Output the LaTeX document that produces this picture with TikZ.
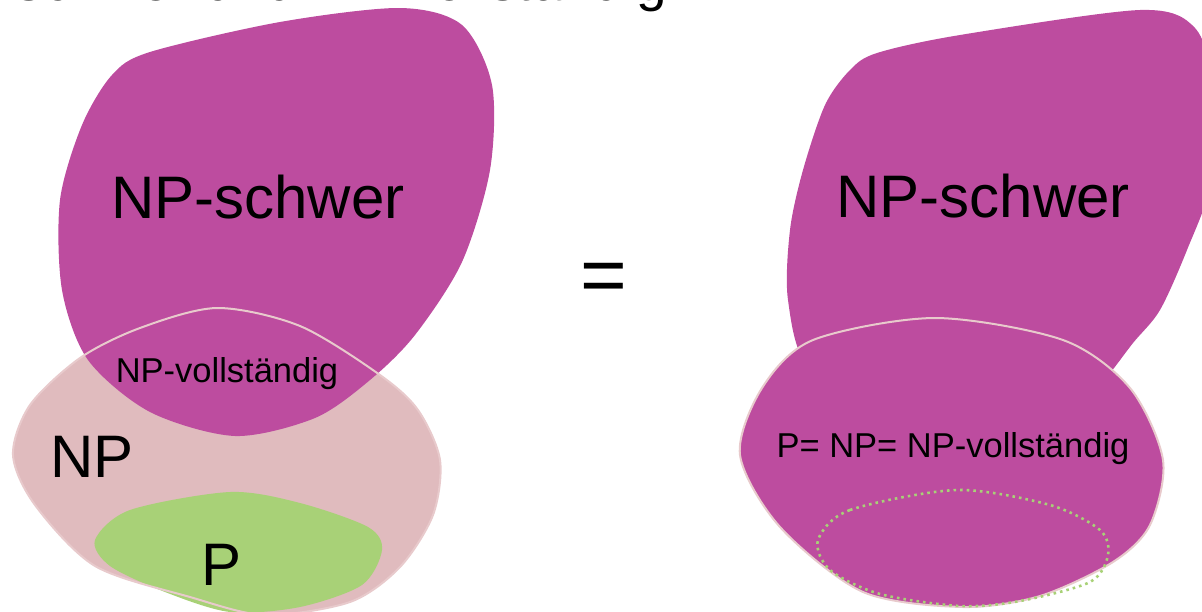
\documentclass[tikz,border=0pt]{standalone}
\usepackage{fontspec}
\setmainfont{Liberation Sans}
\definecolor{npmag}{HTML}{BD4C9F}
\definecolor{nppink}{HTML}{E0BBBE}
\definecolor{nppinkline}{HTML}{E8CACC}
\definecolor{pgreen}{HTML}{A8D177}
\tikzset{
  magblob/.style={fill=npmag, draw=none},
  pinkblob/.style={fill=nppink, draw=none},
  pinkedge/.style={draw=nppinkline, line width=2pt},
  greenblob/.style={fill=pgreen, draw=none},
  greendots/.style={draw=pgreen, line width=2.6pt, dash pattern=on 2.6pt off 4pt},
  bigtxt/.style={font=\fontsize{60}{70}\selectfont, inner sep=0pt, anchor=base},
  midtxt/.style={font=\fontsize{34.5}{40}\selectfont, inner sep=0pt, anchor=base},
}
\begin{document}
\begin{tikzpicture}[x=1pt,y=-1pt]
\useasboundingbox (0,0) rectangle (1202,611);
\clip (0,0) rectangle (1202,611);
% title (cut off at top)
\node[font=\fontsize{55}{64}\selectfont, inner sep=0pt, anchor=base east] (title) at (667,0.5) {NP-schwer und NP-vollständig};
% ---- left picture ----
\path[pinkblob] plot[smooth cycle] coordinates {(13,455) (30,405) (80,358) (140,328) (217,308) (300,326) (380,375) (418,410) (440,460) (433,515) (400,567) (350,602) (265,615) (190,597) (95,566) (35,505)};
\path[greenblob] plot[smooth cycle] coordinates {(95,540) (130,510) (230,492) (300,503) (368,527) (382,550) (362,585) (300,607) (230,612) (165,592) (110,566)};
\path[magblob] plot[smooth cycle] coordinates {(150,52) (280,22) (400,8) (462,25) (492,85) (490,170) (462,262) (415,335) (370,380) (315,418) (235,436) (150,412) (88,360) (62,290) (60,200) (82,125) (112,75)};
\path[pinkedge] plot[smooth cycle] coordinates {(13,455) (30,405) (80,358) (140,328) (217,308) (300,326) (380,375) (418,410) (440,460) (433,515) (400,567) (350,602) (265,615) (190,597) (95,566) (35,505)};
\node[bigtxt] (hardL) at (258,218) {NP-schwer};
\node[midtxt] (compL) at (227,382) {NP-vollständig};
\node[bigtxt] (npL) at (92,477) {NP};
\node[bigtxt] (pL) at (222,585) {P};
% ---- equals ----
\node[font=\fontsize{80}{90}\selectfont, inner sep=0pt, anchor=base] (eq) at (604,302) {=};
% ---- right picture ----
\path[magblob] plot[smooth cycle] coordinates {(877,53) (960,35) (1140,10) (1195,28) (1215,90) (1212,180) (1187,250) (1160,310) (1133,343) (1100,385) (1060,420) (900,420) (810,370) (788,300) (790,230) (803,170) (825,105) (850,70)};
\path[magblob, pinkedge] plot[smooth cycle] coordinates {(740,455) (762,388) (813,340) (935,318) (1063,340) (1130,388) (1163,460) (1150,525) (1113,562) (1040,596) (963,607) (863,592) (780,527)};
\path[greendots] plot[smooth cycle] coordinates {(818,540) (850,510) (957,490) (1050,505) (1100,530) (1108,555) (1090,582) (1020,601) (960,606) (880,594) (830,570)};
\node[bigtxt] (hardR) at (983,217) {NP-schwer};
\node[midtxt] (allR) at (953,457) {P= NP= NP-vollständig};
\end{tikzpicture}
\end{document}
